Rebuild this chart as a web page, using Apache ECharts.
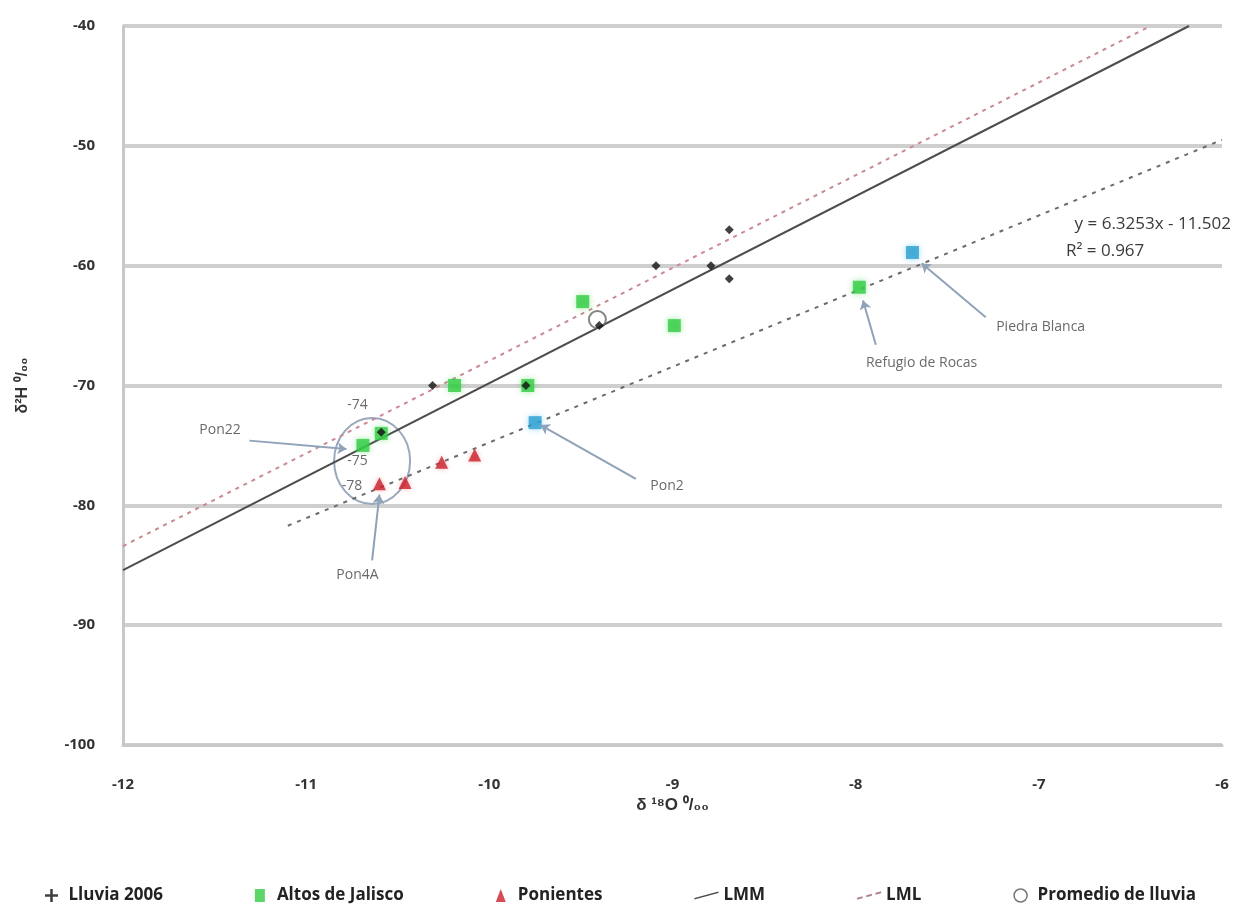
<!DOCTYPE html>
<html>
<head>
<meta charset="utf-8">
<script src="https://cdn.jsdelivr.net/npm/echarts@6/dist/echarts.min.js"></script>
<style>
html,body{margin:0;padding:0;background:#fff;}
#chart{width:1241px;height:913px;}
</style>
</head>
<body>
<div id="chart"></div>
<script>
// puntos: [d18O, d2H]
var lluvia2006 = [[-10.31,-70],[-10.59,-73.9],[-9.80,-70],[-9.40,-65],[-9.09,-60],[-8.79,-60],[-8.69,-57],[-8.69,-61.1]];
var altosJalisco = [[-10.19,-70],[-9.49,-63],[-8.99,-65],[-9.79,-70],[-10.69,-75],[-10.59,-74],[-7.98,-61.8]];
var ponientes = [[-10.60,-78.2],[-10.46,-78.1],[-10.26,-76.4],[-10.08,-75.8]];
var otros = [[-7.69,-58.9],[-9.75,-73.1]];
var promedio = [[-9.41,-64.5]];
// lineas (extremos)
var lmm = [[-12,-85.4],[-6.18,-40]];
var lml = [[-12,-83.4],[-6.39,-40]];
var tendencia = [[-11.1,-81.7],[-6,-49.5]];
var xTicks = [-12,-11,-10,-9,-8,-7,-6];
var yTicks = [-100,-90,-80,-70,-60,-50,-40];
// anotaciones: [texto, x, y]
var etiquetas = [["-74",-10.72,-71.6],["-75",-10.72,-76.3],["-78",-10.75,-78.4],
    ["Pon22",-11.47,-73.7],["Pon4A",-10.72,-85.8],["Pon2",-9.03,-78.4],
    ["Refugio de Rocas",-7.64,-68.1],["Piedra Blanca",-6.99,-65.1]];
var flechas = [[[-11.31,-74.6],[-10.78,-75.3]],[[-10.64,-84.6],[-10.6,-79.1]],
    [[-9.20,-77.8],[-9.72,-73.3]],[[-7.89,-66.6],[-7.96,-62.9]],[[-7.29,-64.3],[-7.64,-59.8]]];

var myChart = echarts.init(document.getElementById('chart'));
var font = 'Open Sans';
var ecuacion = [
    {type:'text',right:10,top:216,style:{text:'y = 6.3253x - 11.502',fontSize:17,fill:'#3a3a3a',fontFamily:font}},
    {type:'text',left:1066,top:243,style:{text:'R² = 0.967',fontSize:17,fill:'#3a3a3a',fontFamily:font}}
];
var option = {
    animation:false,
    textStyle:{fontFamily:font},
    grid:{left:123,right:19,top:26,bottom:168},
    xAxis:{
        type:'value',min:-12,max:-6,interval:1,
        name:'δ ¹⁸O ⁰/₀₀',nameLocation:'middle',nameGap:50,
        nameTextStyle:{fontSize:17,fontWeight:'bold',color:'#333',fontFamily:'Liberation Sans'},
        axisLine:{lineStyle:{color:'#c8c8c8',width:3}},
        axisTick:{show:false},
        splitLine:{show:false},
        axisLabel:{fontSize:15,fontWeight:'bold',color:'#333',margin:32}
    },
    yAxis:{
        type:'value',min:-100,max:-40,interval:10,
        name:'δ²H ⁰/₀₀',nameLocation:'middle',nameGap:92,
        nameTextStyle:{fontSize:16,fontWeight:'bold',color:'#333',fontFamily:'Liberation Sans'},
        axisLine:{show:true,lineStyle:{color:'#c8c8c8',width:3}},
        axisTick:{show:false},
        splitLine:{lineStyle:{color:'#cfcfcf',width:4}},
        axisLabel:{fontSize:15,fontWeight:'bold',color:'#333',margin:28}
    },
    legend:{
        bottom:4,left:'center',itemGap:92,itemWidth:24,itemHeight:13,symbolKeepAspect:true,
        textStyle:{fontSize:17,fontWeight:'bold',color:'#222'},
        data:[
            {name:'Lluvia 2006',icon:'path://M4,0H6V4H10V6H6V10H4V6H0V4H4Z',itemStyle:{color:'#111'}},
            {name:'Altos de Jalisco',icon:'path://M0,0H10V13H0Z'},
            {name:'Ponientes',icon:'path://M5,0L10,13H0Z'},
            {name:'LMM',icon:'path://M0,9L30,1L30,3L0,11Z',itemStyle:{color:'#4d4d4d'}},
            {name:'LML',icon:'path://M0,9L6,7.4L6,9.4L0,11Z M10,6.3L16,4.7L16,6.7L10,8.3Z M20,3.6L26,2L26,4L20,5.6Z',itemStyle:{color:'#b08088'}},
            {name:'Promedio de lluvia',icon:'circle',itemStyle:{color:'#fff',borderColor:'#555',borderWidth:1.5}}
        ]
    },
    series:[
        {name:'LMM',type:'line',data:lmm,symbol:'none',z:2,
            itemStyle:{color:'#4d4d4d'},
            lineStyle:{color:'#4d4d4d',width:2}},
        {name:'LML',type:'line',data:lml,symbol:'none',z:2,
            itemStyle:{color:'#c98a90'},
            lineStyle:{color:'#c98a90',width:2,type:[4,5]}},
        {name:'Tendencia',type:'line',data:tendencia,symbol:'none',z:2,
            itemStyle:{color:'#6b6b6b'},
            lineStyle:{color:'#6b6b6b',width:2,type:[4,6]},
            markLine:{silent:true,symbol:['none','arrow'],symbolSize:9,
                label:{show:false},
                lineStyle:{color:'#8fa2b8',width:2,type:'solid'},
                data:flechas.map(function(f){return [{coord:f[0]},{coord:f[1]}];})}},
        {name:'Altos de Jalisco',type:'scatter',data:altosJalisco,symbol:'rect',symbolSize:13,z:3,
            itemStyle:{color:'#33cc44',shadowColor:'rgba(60,220,80,0.6)',shadowBlur:6}},
        {name:'Otros',type:'scatter',data:otros,symbol:'rect',symbolSize:13,z:3,
            itemStyle:{color:'#2a9fd0',shadowColor:'rgba(60,180,230,0.6)',shadowBlur:6}},
        {name:'Ponientes',type:'scatter',data:ponientes,symbol:'triangle',symbolSize:13,z:3,
            itemStyle:{color:'#cc1f2a',shadowColor:'rgba(230,80,90,0.5)',shadowBlur:5}},
        {name:'Lluvia 2006',type:'scatter',data:lluvia2006,symbol:'diamond',symbolSize:9,z:4,
            itemStyle:{color:'#111'}},
        {name:'Promedio de lluvia',type:'scatter',data:promedio,symbol:'circle',symbolSize:17,z:3,
            itemStyle:{color:'rgba(255,255,255,0)',borderColor:'#666',borderWidth:2}},
        {name:'Etiquetas',type:'scatter',symbolSize:0,z:5,silent:true,
            data:etiquetas.map(function(e){return {value:[e[1],e[2]],label:{formatter:e[0]}};}),
            label:{show:true,position:'inside',fontSize:14,color:'#444'}}
    ],
    graphic:ecuacion
};
myChart.setOption(option);
// elipse alrededor del grupo Pon22 / Pon4A
var c = myChart.convertToPixel({gridIndex:0},[-10.64,-76.3]);
myChart.setOption({graphic:ecuacion.concat([
    {type:'ellipse',shape:{cx:c[0],cy:c[1],rx:38,ry:43},z:1,
        style:{fill:'none',stroke:'#9aa8bd',lineWidth:2}}
])});
</script>
</body>
</html>
